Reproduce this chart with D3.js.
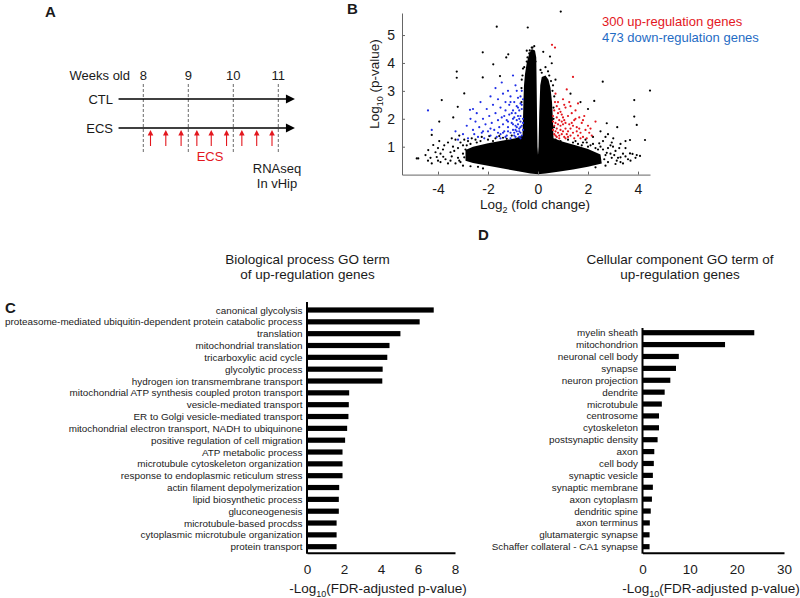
<!DOCTYPE html>
<html>
<head>
<meta charset="utf-8">
<script src="https://cdn.jsdelivr.net/npm/d3@7"></script>
<style>
body { margin: 0; background: #fff; }
text { font-family: "Liberation Sans", Arial, Helvetica, sans-serif; fill: #1a1a1a; }
</style>
</head>
<body>
<svg id="fig" width="800" height="598"></svg>
<script>
// ---- data ----
// panel A: timeline
var weeks = [8, 9, 10, 11]
var groups = ['CTL', 'ECS']
var ecsTimes = [8.16, 8.5, 8.84, 9.19, 9.51, 9.85, 10.19, 10.52, 10.86]
var timelineSpan = [7.45, 11.37]

// panel B: volcano (log2 fold change, -log10 p)
var upGenes = [
	[0.56,4.65],[0.68,4.55],[1.4,3.5],[1.15,3.05],[0.7,2.9],[0.8,2.6],[1.0,2.7],[1.3,2.45],[1.6,2.55],[0.65,2.3],
	[0.75,2.05],[0.85,2.35],[0.95,2.15],[1.05,1.95],[1.1,2.4],[1.2,2.1],[1.25,1.8],[1.35,2.2],[1.45,1.95],[1.5,2.3],
	[1.55,1.7],[1.65,2.05],[1.7,1.5],[1.75,1.85],[1.85,2.1],[1.9,1.6],[2.0,1.75],[2.1,1.65],[2.15,1.4],[2.3,1.9],
	[0.6,1.9],[0.6,1.6],[0.65,1.75],[0.65,1.45],[0.7,1.55],[0.7,1.85],[0.75,1.35],[0.75,1.65],[0.8,1.5],[0.8,1.8],
	[0.85,1.4],[0.85,1.95],[0.9,1.6],[0.9,1.75],[0.95,1.45],[1.0,1.55],[1.0,1.8],[1.05,1.35],[1.1,1.65],[1.15,1.45],
	[1.2,1.55],[1.3,1.4],[1.3,1.65],[1.4,1.5],[1.45,1.3],[1.6,1.4],[1.8,1.35],[1.0,2.05],[0.9,2.25],[1.1,1.85],
	[1.35,1.85],[0.75,2.45],[1.25,2.6],[0.6,2.1],[1.55,1.55],[1.7,1.3],[1.95,1.3],[1.1,1.3],[0.85,1.3],[1.5,2.0],
	[0.7,1.4],[0.95,1.9],[1.2,1.35],[1.4,1.75],[1.65,1.65],[0.8,2.2],[1.05,2.5],[1.8,1.95],[2.05,1.5],[0.68,2.6]
]
var downGenes = [
	[-4.4,2.3],[-4.25,1.6],[-3.2,1.25],[-3.0,1.45],[-2.85,1.75],[-2.8,1.3],[-2.72,2.32],[-2.7,2.0],[-2.6,1.6],[-2.55,1.45],
	[-2.5,1.9],[-2.45,2.2],[-2.4,1.35],[-2.35,1.7],[-2.3,2.6],[-2.25,1.5],[-2.2,2.0],[-2.15,1.3],[-2.1,1.8],[-2.05,2.35],
	[-2.0,1.55],[-1.95,2.1],[-1.9,1.4],[-1.9,2.8],[-1.85,1.85],[-1.8,2.5],[-1.75,1.6],[-1.7,3.1],[-1.7,2.2],[-1.65,1.35],
	[-1.6,1.95],[-1.6,2.7],[-1.55,1.7],[-1.5,2.4],[-1.5,1.45],[-1.45,3.3],[-1.45,2.05],[-1.4,1.8],[-1.4,2.9],[-1.35,1.55],
	[-1.3,2.3],[-1.3,2.6],[-1.25,1.4],[-1.25,1.95],[-1.2,3.0],[-1.2,1.7],[-1.15,2.15],[-1.15,2.5],[-1.1,1.5],[-1.1,2.8],
	[-1.05,1.85],[-1.0,3.55],[-1.0,2.3],[-1.0,1.6],[-1.0,2.0],[-0.95,2.6],[-0.95,1.4],[-0.9,1.75],[-0.9,2.2],[-0.9,3.2],
	[-0.85,1.55],[-0.85,1.95],[-0.85,2.45],[-0.8,2.75],[-0.8,1.45],[-0.8,1.8],[-0.8,2.1],[-0.75,1.65],[-0.75,2.3],[-0.75,1.35],
	[-0.7,1.9],[-0.7,2.55],[-0.7,1.5],[-0.7,2.1],[-0.65,1.75],[-0.65,2.35],[-0.65,1.4],[-0.65,3.0],[-0.6,1.6],[-0.6,2.0],
	[-0.6,2.7],[-0.6,1.85],[-1.1,1.3],[-1.3,1.35],[-1.6,1.5],[-1.9,1.65],[-2.2,1.55],[-0.95,1.5],[-1.2,1.55],[-1.4,1.5],
	[-0.75,1.55],[-0.85,1.7],[-1.0,1.8],[-1.2,1.9],[-0.7,1.7],[-0.9,1.6],[-0.75,2.0],[-0.8,2.4],[-0.95,2.05],[-1.05,2.2],
	[-0.7,2.8],[-0.85,3.0],[-1.1,2.6],[-0.65,2.5],[-1.35,2.1],[-0.9,1.35],[-0.7,1.3],[-1.5,1.3],[-2.6,2.35],[-3.3,1.55]
]
var otherGenes = [
	[0.91,5.84],[-1.65,5.3],[-0.41,5.27],[-2.21,4.38],[-1.19,4.31],[-1.27,4.2],[-0.45,4.44],[-0.35,4.34],[0.21,4.4],[0.48,4.23],
	[0.55,3.99],[-1.79,3.95],[-3.25,3.69],[-3.25,3.47],[-2.21,3.48],[-1.52,3.53],[-2.95,2.91],[-3.85,2.67],[-3.21,2.43],[-3.39,2.05],
	[-3.95,1.9],[-4.25,1.42],[-4.19,1.06],[-4.39,0.88],[-4.79,0.58],[-4.25,0.4],[-3.79,0.64],[-4.05,0.63],[-4.85,0.58],
	[2.59,3.33],[4.48,3.01],[3.85,2.67],[2.25,2.64],[3.85,2.08],[2.75,1.84],[3.17,1.7],[3.95,1.78],[4.28,1.24],[3.68,1.24],
	[3.01,1.3],[3.95,0.7],[3.68,0.76],[4.08,0.67],[3.78,0.74],[1.3,2.9],[1.7,2.6],[2.0,2.35],[2.5,1.55],[2.8,1.45],
	[3.3,1.1],[3.5,0.95],[2.6,1.2],[-3.6,1.15],[-3.4,1.0],[-3.5,0.8],[-3.8,0.9],[-3.0,1.05],[-2.8,1.2],[-2.5,1.25],
	[-3.3,1.25],[-3.7,0.55],[-3.9,0.75],[-2.7,1.1],[-2.3,1.2],[-2.0,1.25],[-1.7,1.3],[-1.4,1.32],[-3.2,0.95],[-4.0,0.5],
	[-3.5,0.5],[-4.5,0.7],[-4.4,0.5],[3.2,0.6],[3.4,0.75],[3.1,0.85],[2.8,0.95],[2.5,1.0],[2.2,1.1],[1.8,1.15],
	[1.5,1.2],[3.6,0.55],[3.3,0.45],[2.9,0.75],[2.4,0.9],[2.1,1.05],[3.0,1.0],[2.7,1.35],[3.5,1.2],[2.2,1.35],
	[1.9,1.25],[0.62,2.4],[0.65,2.8],[0.6,3.2],[0.4,3.7],[0.3,3.85],[-0.6,3.8],[-0.65,3.4],[-0.25,4.55],[-0.15,4.6],
	[0.1,3.75],[-0.45,4.05],[0.7,3.4],[-3.1,1.15],[-2.9,0.9],[-3.45,0.65],[3.25,0.95],[2.95,1.15],
	[-3.45,1.3],[-3.15,1.4],[-2.95,1.25],[-2.65,1.3],[-2.45,1.15],[-2.25,1.35],[-1.95,1.38],[-1.8,1.2],[-1.55,1.38],[-1.25,1.28],
	[-1.05,1.4],[-2.85,1.05],[-3.75,1.05],[-4.0,0.95],[-4.1,0.8],[-3.95,1.2],[-4.3,0.6],[-3.9,0.45],[-3.6,0.4],[-3.3,0.4],
	[-3.0,0.32],[-2.7,0.3],[-2.4,0.28],[-3.1,0.45],[-2.2,0.22],[0.7,1.25],[0.9,1.2],[1.2,1.25],[1.4,1.15],[1.6,1.1],
	[1.75,1.05],[2.0,1.0],[2.3,0.95],[2.6,0.9],[2.75,0.78],[3.05,0.7],[3.3,0.62],[3.5,0.65],[2.45,1.12],[1.95,1.15],
	[2.9,1.05],[3.4,0.4],[3.1,0.38],[2.7,0.32],[2.3,0.26],[3.7,0.5],[3.9,0.6],[0.62,2.0],[0.64,1.7],[0.58,3.0],
	[0.52,3.35],[0.45,3.55],[0.15,3.65],[-0.1,4.05],[-0.22,4.55],[-0.33,4.45],[-0.42,4.2],[-0.55,3.85],[-0.62,3.55],[-0.66,3.1],
	[-0.66,2.6],[-3.2,0.6],[-3.0,0.75],[-3.35,0.85],[-3.15,0.5],[-2.95,0.62],[2.65,0.55],[2.8,0.45],[2.95,0.6],[2.7,0.7],[3.15,0.5]
]
// outline of the solid black cloud of non-significant genes
var denseCloud = [
	[-2.9,0.5],[-2.6,0.42],[-2.0,0.32],[-1.4,0.22],[-0.8,0.12],[-0.3,0.04],[0,0.01],[0.3,0.04],[0.8,0.1],[1.4,0.18],
	[2.0,0.28],[2.55,0.4],[2.5,0.72],[2.0,0.92],[1.5,1.05],[1.0,1.18],[0.62,1.3],[0.6,1.9],
	[0.56,2.6],[0.5,3.1],[0.42,3.4],[0.3,3.55],[0.15,3.5],[0.09,3.2],[0.05,2.2],[0.02,1.0],[0.0,0.7],[-0.02,1.0],
	[-0.04,2.2],[-0.06,3.6],[-0.07,4.2],[-0.12,4.45],[-0.25,4.5],[-0.35,4.35],[-0.45,4.0],[-0.52,3.6],[-0.56,3.2],[-0.58,2.7],
	[-0.6,2.0],[-0.62,1.4],[-0.9,1.3],[-1.4,1.22],[-2.0,1.12],[-2.6,1.0],[-2.9,0.88]
]
var volcanoXTicks = [-4, -2, 0, 2, 4]
var volcanoYTicks = [1, 2, 3, 4, 5]
var upCount = 300
var downCount = 473

// panel C: biological process GO terms
var bpTerms = ['canonical glycolysis', 'proteasome-mediated ubiquitin-dependent protein catabolic process', 'translation',
	'mitochondrial translation', 'tricarboxylic acid cycle', 'glycolytic process', 'hydrogen ion transmembrane transport',
	'mitochondrial ATP synthesis coupled proton transport', 'vesicle-mediated transport', 'ER to Golgi vesicle-mediated transport',
	'mitochondrial electron transport, NADH to ubiquinone', 'positive regulation of cell migration', 'ATP metabolic process',
	'microtubule cytoskeleton organization', 'response to endoplasmic reticulum stress', 'actin filament depolymerization',
	'lipid biosynthetic process', 'gluconeogenesis', 'microtubule-based procdss', 'cytoplasmic microtubule organization',
	'protein transport']
var bpValues = [6.85, 6.09, 5.05, 4.46, 4.34, 4.09, 4.07, 2.28, 2.26, 2.24, 2.17, 2.06, 1.92, 1.92, 1.92, 1.74, 1.72, 1.72, 1.6, 1.6, 1.6]
var bpTicks = [0, 2, 4, 6, 8]

// panel D: cellular component GO terms
var ccTerms = ['myelin sheath', 'mitochondrion', 'neuronal cell body', 'synapse', 'neuron projection', 'dendrite',
	'microtubule', 'centrosome', 'cytoskeleton', 'postsynaptic density', 'axon', 'cell body', 'synaptic vesicle',
	'synaptic membrane', 'axon cytoplasm', 'dendritic spine', 'axon terminus', 'glutamatergic synapse',
	'Schaffer collateral - CA1 synapse']
var ccValues = [23.7, 17.5, 7.7, 7.1, 5.9, 4.7, 4.1, 3.5, 3.5, 3.2, 2.5, 2.4, 2.2, 2.2, 2.0, 1.75, 1.55, 1.5, 1.5]
var ccTicks = [0, 10, 20, 30]

var svg = d3.select('#fig')
var red = '#e3171e', blue = '#1f2ee6'
var plain = function(d) { return String(d) }   // keep a hyphen minus like the original

// panel letters
var letters = [['A', 45, 17], ['B', 347, 14], ['C', 5, 313], ['D', 478, 240]]
svg.selectAll('.letter').data(letters).enter().append('text')
	.attr('x', function(d) { return d[1] }).attr('y', function(d) { return d[2] })
	.style('font-weight', 'bold').style('font-size', '15px').text(function(d) { return d[0] })

// ---- panel A ----
var wx = d3.scaleLinear().domain([8, 11]).range([143.3, 278.3])
var rowY = d3.scalePoint().domain(groups).range([99, 128])
var a = svg.append('g')
a.append('text').attr('x', 130).attr('y', 80).attr('text-anchor', 'end').style('font-size', '13px').text('Weeks old')
a.selectAll('.wk').data(weeks).enter().append('text')
	.attr('x', function(d) { return wx(d) }).attr('y', 80).attr('text-anchor', 'middle').style('font-size', '13px').text(function(d) { return d })
a.selectAll('.dash').data(weeks).enter().append('line')
	.attr('x1', function(d) { return wx(d) }).attr('x2', function(d) { return wx(d) })
	.attr('y1', 84).attr('y2', 154).attr('stroke', '#444').attr('stroke-width', 0.8).attr('stroke-dasharray', '3,2')
groups.forEach(function(g) {
	var y = rowY(g)
	a.append('text').attr('x', 113).attr('y', y + 5).attr('text-anchor', 'end').style('font-size', '13px').text(g)
	a.append('line').attr('x1', wx(timelineSpan[0])).attr('x2', wx(timelineSpan[1]) - 6).attr('y1', y).attr('y2', y)
		.attr('stroke', '#000').attr('stroke-width', 1.6)
	var tip = wx(timelineSpan[1])
	a.append('path').attr('d', 'M' + tip + ',' + y + 'L' + (tip - 9) + ',' + (y - 4.5) + 'L' + (tip - 9) + ',' + (y + 4.5) + 'Z').attr('fill', '#000')
})
a.selectAll('.ecs').data(ecsTimes).enter().append('g').each(function(d) {
	var x = wx(d), g = d3.select(this)
	g.append('line').attr('x1', x).attr('x2', x).attr('y1', 146).attr('y2', 134).attr('stroke', red).attr('stroke-width', 1.1)
	g.append('path').attr('d', 'M' + x + ',130L' + (x - 2.8) + ',135.5L' + (x + 2.8) + ',135.5Z').attr('fill', red)
})
a.append('text').attr('x', 210).attr('y', 161).attr('text-anchor', 'middle').style('font-size', '13px').style('fill', red).text('ECS')
a.append('text').attr('x', 277).attr('y', 173).attr('text-anchor', 'middle').style('font-size', '13px').text('RNAseq')
a.append('text').attr('x', 277).attr('y', 188).attr('text-anchor', 'middle').style('font-size', '13px').text('In vHip')

// ---- panel B ----
var xB = d3.scaleLinear().domain([-5.44, 4.48]).range([402, 650])
var yB = d3.scaleLinear().domain([0, 5.79]).range([174.6, 13])
var b = svg.append('g')
b.append('path').datum(denseCloud)
	.attr('d', d3.line().x(function(d) { return xB(d[0]) }).y(function(d) { return yB(d[1]) }).curve(d3.curveLinearClosed))
	.attr('fill', '#000')
function dots(list, color) {
	b.append('g').selectAll('circle').data(list).enter().append('circle')
		.attr('cx', function(d) { return xB(d[0]) }).attr('cy', function(d) { return yB(d[1]) })
		.attr('r', 1.1).attr('fill', color)
}
dots(otherGenes, '#000')
dots(downGenes, blue)
dots(upGenes, red)
var axB = b.append('g').attr('transform', 'translate(0,' + yB(0) + ')')
	.call(d3.axisBottom(xB).tickValues(volcanoXTicks).tickFormat(plain).tickSizeInner(-3).tickSizeOuter(0).tickPadding(9))
var ayB = b.append('g').attr('transform', 'translate(' + xB.range()[0] + ',0)')
	.call(d3.axisLeft(yB).tickValues(volcanoYTicks).tickFormat(plain).tickSizeInner(-3).tickSizeOuter(0).tickPadding(7))
;[axB, ayB].forEach(function(ax) {
	ax.select('.domain').attr('stroke', '#666')
	ax.selectAll('.tick line').attr('stroke', '#666')
	ax.selectAll('text').style('font-size', '14px').style('font-family', '"Liberation Sans", Arial, sans-serif').attr('fill', '#222')
})
var xl = b.append('text').attr('x', 535).attr('y', 209).attr('text-anchor', 'middle').style('font-size', '13.5px')
xl.append('tspan').text('Log')
xl.append('tspan').attr('dy', 4).style('font-size', '9px').text('2')
xl.append('tspan').attr('dy', -4).text(' (fold change)')
var yl = b.append('text').attr('transform', 'translate(379,84) rotate(-90)').attr('text-anchor', 'middle').style('font-size', '13.5px')
yl.append('tspan').text('Log')
yl.append('tspan').attr('dy', 4).style('font-size', '9px').text('10')
yl.append('tspan').attr('dy', -4).text(' (p-value)')
b.append('text').attr('x', 602).attr('y', 26).style('font-size', '13px').style('fill', red).text(upCount + ' up-regulation genes')
b.append('text').attr('x', 602).attr('y', 42).style('font-size', '13px').style('fill', '#1f6cc4').text(downCount + ' down-regulation genes')

// ---- bar panels C and D ----
function goPanel(terms, values, ticks, xRange, yRange, axisTop, title, titleX, labelX) {
	var x = d3.scaleLinear().domain([0, ticks[ticks.length - 1]]).range(xRange)
	var y = d3.scalePoint().domain(terms).range(yRange)
	var g = svg.append('g')
	g.selectAll('text.title').data(title).enter().append('text')
		.attr('x', titleX).attr('y', function(d, i) { return 264 + i * 14.5 }).attr('text-anchor', 'middle').style('font-size', '13.5px').text(function(d) { return d })
	g.selectAll('rect').data(values).enter().append('rect')
		.attr('x', x(0)).attr('y', function(d, i) { return y(terms[i]) - 2.6 })
		.attr('width', function(d) { return x(d) - x(0) }).attr('height', 5.2).attr('fill', '#000')
	g.selectAll('text.term').data(terms).enter().append('text')
		.attr('x', x(0) - 4.5).attr('y', function(d) { return y(d) + 3.5 }).attr('text-anchor', 'end').style('font-size', '9.9px').text(function(d) { return d })
	var bottom = yRange[1] + 6
	var ax = g.append('g').attr('transform', 'translate(0,' + bottom + ')')
		.call(d3.axisBottom(x).tickValues(ticks).tickFormat(plain).tickSize(0).tickPadding(12))
	ax.select('.domain').attr('stroke', '#000').attr('stroke-width', 2)
	ax.selectAll('text').style('font-size', '13.5px').style('font-family', '"Liberation Sans", Arial, sans-serif').attr('fill', '#222')
	g.append('line').attr('x1', x(0)).attr('x2', x(0)).attr('y1', axisTop).attr('y2', bottom + 1)
		.attr('stroke', '#000').attr('stroke-width', 2)
	var lab = g.append('text').attr('x', labelX).attr('y', 593).attr('text-anchor', 'middle').style('font-size', '13.5px')
	lab.append('tspan').text('-Log')
	lab.append('tspan').attr('dy', 4).style('font-size', '9px').text('10')
	lab.append('tspan').attr('dy', -4).text('(FDR-adjusted p-value)')
}
goPanel(bpTerms, bpValues, bpTicks, [307, 455], [310, 546.7], 302,
	['Biological process GO term', 'of up-regulation genes'], 307.5, 378)
goPanel(ccTerms, ccValues, ccTicks, [642.5, 784], [332.7, 546.7], 328,
	['Cellular component GO term of', 'up-regulation genes'], 680, 711)
</script>
</body>
</html>
